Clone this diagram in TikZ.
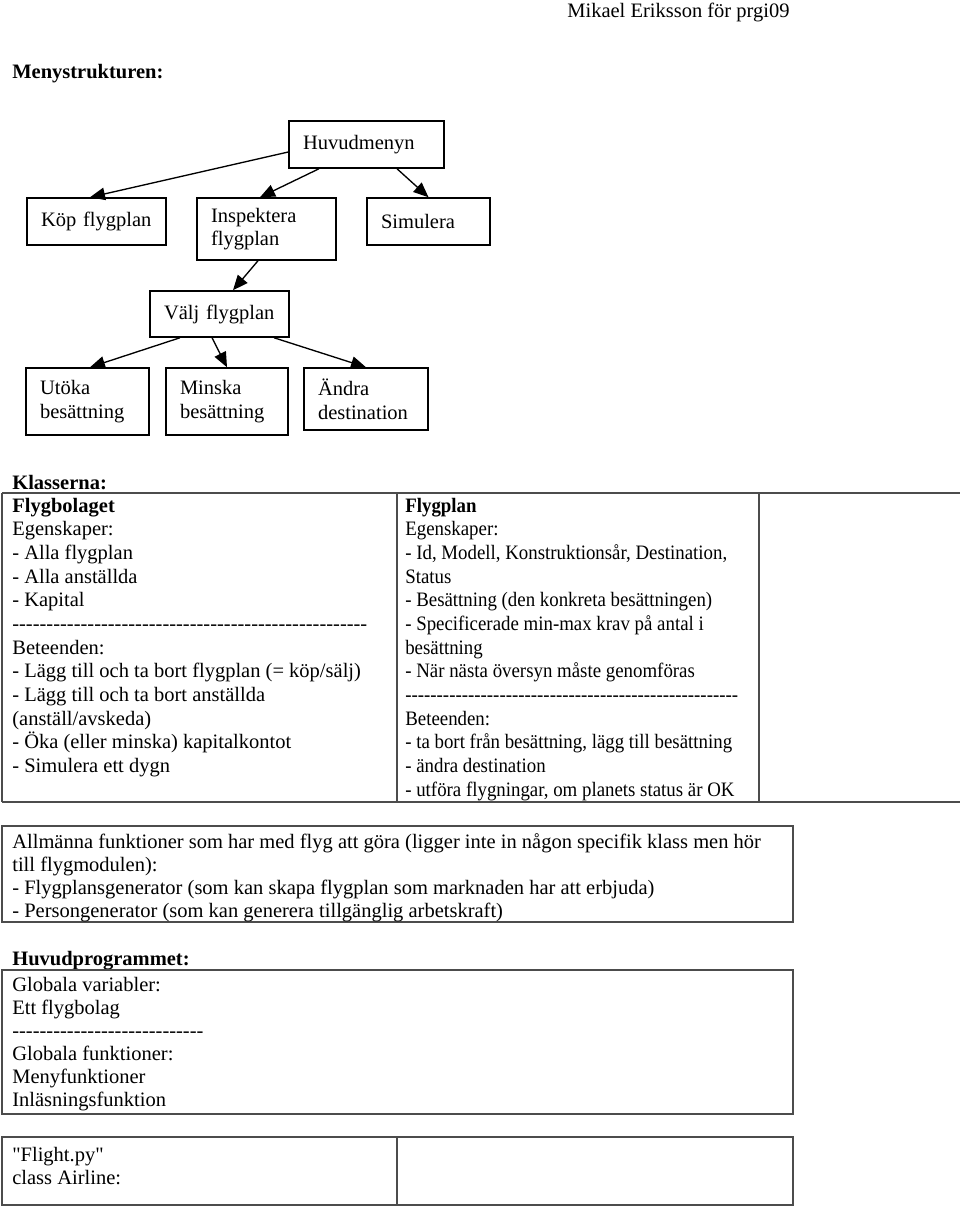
\documentclass[tikz,border=0pt]{standalone}
\usepackage{fontspec}
\setmainfont{Liberation Serif}[Ligatures=TeXOff]
\usetikzlibrary{arrows.meta}
\ExplSyntaxOn
\cs_new:Npn \myhy #1 {\prg_replicate:nn{#1}{-}}
\ExplSyntaxOff
\begin{document}
\begin{tikzpicture}[x=0.6pt,y=-0.6pt,
  txt/.style={font=\fontsize{12.3}{14.2}\selectfont, inner sep=0pt, align=left},
  head/.style={txt, font=\fontsize{12.3}{14.2}\selectfont\bfseries, anchor=base west},
  menubox/.style={draw=black, line width=0.9pt, align=left, inner xsep=8.4pt, inner ysep=0pt,
    font=\fontsize{12.3}{14.2}\selectfont},
  arr/.style={line width=0.8pt, -{Triangle[length=9pt,width=7.5pt]}},
  tab/.style={draw=black!70, line width=0.9pt}
]
\useasboundingbox (0,0) rectangle (960,1213);

% header
\node[txt, anchor=base west] (author) at (567,17) {Mikael Eriksson för prgi09};
\node[head] (meny) at (12,78) {Menystrukturen:};

% menu tree
\node[menubox, text width=76.2pt, minimum height=28.2pt] (huvud) at (366.5,144.5) {Huvudmenyn};
\node[menubox, text width=66.6pt, minimum height=28.2pt] (koep) at (96.5,221.5) {Köp flygplan};
\node[menubox, text width=66.6pt, minimum height=37.2pt] (insp) at (266.5,229) {Inspektera\\flygplan};
\node[menubox, text width=57pt, minimum height=28.2pt] (sim) at (428.5,221.5) {Simulera};
\node[menubox, text width=66.6pt, minimum height=27.6pt] (valj) at (219.5,314) {Välj flygplan};
\node[menubox, text width=57pt, minimum height=40.2pt] (utoka) at (87.5,401.5) {Utöka\\besättning};
\node[menubox, text width=56.4pt, minimum height=40.2pt] (minska) at (227,401.5) {Minska\\besättning};
\node[menubox, text width=57.6pt, minimum height=37.2pt] (andra) at (366,399) {Ändra\\destination};

\draw[arr] ([yshift=-4.5pt]huvud.west) -- ([xshift=-3.9pt]koep.north);
\draw[arr] ([xshift=-28.5pt]huvud.south) -- ([xshift=-3.9pt]insp.north);
\draw[arr] ([xshift=18.3pt]huvud.south) -- (sim.north);
\draw[arr] ([xshift=-5.1pt]insp.south) -- ([xshift=8.1pt]valj.north);
\draw[arr] ([xshift=-23.7pt]valj.south) -- ([xshift=1.5pt]utoka.north);
\draw[arr] ([xshift=-4.5pt]valj.south) -- (minska.north);
\draw[arr] ([xshift=32.7pt]valj.south) -- (andra.north);

% classes
\node[head] (klass) at (12,489) {Klasserna:};
\draw[tab] (2,493) -- (962,493);
\draw[tab] (2,802) -- (962,802);
\draw[tab] (2,493) -- (2,802);
\draw[tab] (397,493) -- (397,802);
\draw[tab] (759,493) -- (759,802);

\node[txt, anchor=north west] (bolag) at (12,495.4) {\strut\textbf{Flygbolaget}\\
Egenskaper:\\
- Alla flygplan\\
- Alla anställda\\
- Kapital\\
\myhy{52}\\
Beteenden:\\
- Lägg till och ta bort flygplan (= köp/sälj)\\
- Lägg till och ta bort anställda\\
(anställ/avskeda)\\
- Öka (eller minska) kapitalkontot\\
- Simulera ett dygn};

\begin{scope}[shift={(405,495.4)}, xscale=0.92, transform shape]
\node[txt, anchor=north west] (plan) at (0,0) {\strut\textbf{Flygplan}\\
Egenskaper:\\
- Id, Modell, Konstruktionsår, Destination,\\
Status\\
- Besättning (den konkreta besättningen)\\
- Specificerade min-max krav på antal i\\
besättning\\
- När nästa översyn måste genomföras\\
\myhy{53}\\
Beteenden:\\
- ta bort från besättning, lägg till besättning\\
- ändra destination\\
- utföra flygningar, om planets status är OK};
\end{scope}

% general functions
\draw[tab] (2,826) rectangle (793,922);
\node[txt, anchor=north west, font=\fontsize{12.3}{13.9}\selectfont] (allm) at (12,831.5) {\strut Allmänna funktioner som har med flyg att göra (ligger inte in någon specifik klass men hör\\
till flygmodulen):\\
- Flygplansgenerator (som kan skapa flygplan som marknaden har att erbjuda)\\
- Persongenerator (som kan generera tillgänglig arbetskraft)};

% main program
\node[head] (huvprog) at (12,965) {Huvudprogrammet:};
\draw[tab] (2,970) rectangle (793,1114);
\node[txt, anchor=north west, font=\fontsize{12.3}{13.9}\selectfont] (glob) at (12,974.5) {\strut Globala variabler:\\
Ett flygbolag\\
\myhy{28}\\
Globala funktioner:\\
Menyfunktioner\\
Inläsningsfunktion};

% flight
\draw[tab] (2,1137) rectangle (793,1205);
\draw[tab] (397,1137) -- (397,1205);
\node[txt, anchor=north west, font=\fontsize{12.3}{13.9}\selectfont] (flight) at (12,1144.5) {\strut "Flight.py"\\
class Airline:};
\end{tikzpicture}
\end{document}
